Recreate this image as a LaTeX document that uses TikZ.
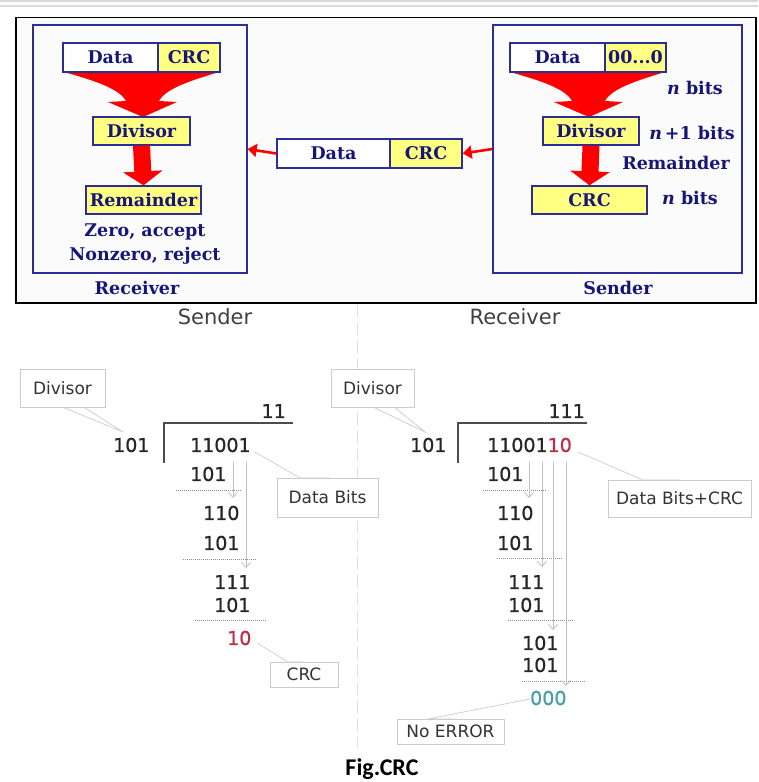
\documentclass[tikz,border=0pt]{standalone}
\usepackage{fontspec}
\usetikzlibrary{arrows.meta}
\newfontfamily\serifb{DejaVu Serif}
\newfontfamily\sansf{DejaVu Sans}
\newfontfamily\digf{DejaVu Sans}[BoldFont={DejaVu Sans},BoldFeatures={FakeBold=0.9}]
\newfontfamily\figfont{Carlito}
\definecolor{navytx}{RGB}{22,22,120}
\definecolor{bluebd}{RGB}{45,45,150}
\definecolor{ylw}{RGB}{255,255,130}
\definecolor{crcred}{RGB}{190,45,70}
\definecolor{teal0}{RGB}{70,160,165}
\begin{document}
\begin{tikzpicture}[x=1pt,y=-1pt,
  tbox/.style={draw=bluebd, line width=1.3pt, inner sep=0pt, text=navytx,
    font=\serifb\bfseries\fontsize{17.5}{20}\selectfont, minimum height=28pt},
  ybox/.style={tbox, fill=ylw},
  wbox/.style={tbox, fill=white},
  ttxt/.style={inner sep=0pt, text=navytx, font=\serifb\bfseries\fontsize{17.5}{20}\selectfont},
  frame/.style={draw=bluebd, line width=1.3pt, inner sep=0pt},
  redarrow/.style={red, line width=2.6pt, -{Triangle[length=9pt,width=13pt]}},
  fatarrow/.style={red, line width=17pt, -{Triangle[length=14pt,width=39pt]}},
  callbox/.style={draw=gray!40, line width=1pt, fill=white, inner sep=0pt, text=black!80,
    font=\sansf\fontsize{17}{20}\selectfont},
  wedge/.style={draw=gray!40, fill=white, line width=0.7pt},
  dig/.style={inner sep=0pt, text=black!85, font=\digf\bfseries\fontsize{19}{22}\selectfont},
  head/.style={inner sep=0pt, text=black!75, font=\sansf\fontsize{21}{24}\selectfont},
  rule/.style={black!70, line width=1.8pt},
  dotrule/.style={gray!90, line width=0.8pt, dash pattern=on 1pt off 1pt},
  bring/.style={gray!50, line width=0.8pt, -{Straight Barb[length=5pt,width=9pt]}}
]
\useasboundingbox (0,0) rectangle (758,782);
\fill[white] (0,0) rectangle (758,782);
% top rules
\draw[gray!30, line width=2.2pt] (0,1.3) -- (758,1.3);
\draw[gray!30, line width=2pt] (0,6.2) -- (758,6.2);
% outer frame
\draw[black, fill=gray!3, line width=1.6pt] (16,17.5) rectangle (756,303);

% ---------- Receiver (top) ----------
\node[frame, minimum width=214pt, minimum height=248pt] (recv) at (140,149) {};
\node[ttxt] (recvlbl) at (137,288) {Receiver};
\fill[red] (64,72) -- (219,72) .. controls (193,80) and (166,88) .. (159,101)
  -- (177,102) -- (143,117) -- (108,102) -- (126,101)
  .. controls (119,88) and (92,80) .. (64,72) -- cycle;
\node[wbox, minimum width=95pt, minimum height=29pt] (rdata) at (110.5,57.5) {Data};
\node[ybox, minimum width=62pt, minimum height=29pt] (rcrc) at (189,57.5) {CRC};
\node[ybox, minimum width=97pt] (rdiv) at (141.5,131) {Divisor};
\node[ybox, minimum width=115pt] (rrem) at (143.5,200) {Remainder};
\draw[fatarrow] (rdiv.south) -- (rrem.north);
\node[ttxt] (zero) at (145,232) {Zero, accept};
\node[ttxt] (nonzero) at (145,256) {Nonzero, reject};

% ---------- middle ----------
\node[wbox, minimum width=113pt, minimum height=29pt] (mdata) at (333.5,153.5) {Data};
\node[ybox, minimum width=72pt, minimum height=29pt] (mcrc) at (426,153.5) {CRC};

% ---------- Sender (top) ----------
\node[frame, minimum width=249pt, minimum height=248pt] (send) at (617.5,149) {};
\node[ttxt] (sendlbl) at (618,288) {Sender};
\begin{scope}[shift={(446,0)}]
\fill[red] (64,72) -- (219,72) .. controls (193,80) and (166,88) .. (159,101)
  -- (177,102) -- (143,117) -- (108,102) -- (126,101)
  .. controls (119,88) and (92,80) .. (64,72) -- cycle;
\end{scope}
\node[wbox, minimum width=95pt, minimum height=29pt] (sdata) at (557.5,57.5) {Data};
\node[ybox, minimum width=61pt, minimum height=29pt] (szero) at (635.5,57.5) {00...0};
\node[ybox, minimum width=96pt] (sdiv) at (591,131) {Divisor};
\node[ybox, minimum width=115pt] (scrc) at (589.5,200) {CRC};
\draw[fatarrow] (sdiv.south) -- (scrc.north);
\node[ttxt] (nb1) at (695,88) {\itshape n\upshape\ bits};
\node[ttxt] (nb2) at (692,133) {\itshape n\upshape\,+1 bits};
\node[ttxt] (remlbl) at (676,163) {Remainder};
\node[ttxt] (nb3) at (690,198) {\itshape n\upshape\ bits};

\draw[redarrow] (mdata.west) -- (recv.east);
\draw[redarrow] (send.west) -- (mcrc.east);

% ---------- bottom ----------
\draw[gray!25, line width=1pt, dash pattern=on 12pt off 6pt] (357,305) -- (357,747);
\node[head] (shead) at (215,317) {Sender};
\node[head] (rhead) at (515,317) {Receiver};

% sender division
\filldraw[wedge] (60,406) -- (123,432) -- (82,406);
\node[callbox, minimum width=85pt, minimum height=38pt] (sdivl) at (62.5,388) {Divisor};
\node[dig, anchor=west] (sd) at (113,445) {101};
\draw[rule] (164,463) -- (164,423) -- (293,423);
\node[dig, anchor=east] (sq) at (286,411) {11};
\node[dig, anchor=west] (s1) at (190,445) {11001};
\node[dig, anchor=west] (s2) at (190,474) {101};
\draw[dotrule] (176,490) -- (241,490);
\node[dig, anchor=west] (s3) at (203,513) {110};
\node[dig, anchor=west] (s4) at (203,543) {101};
\draw[dotrule] (183,559) -- (257,559);
\node[dig, anchor=west] (s5) at (214,582) {111};
\node[dig, anchor=west] (s6) at (214,605) {101};
\draw[dotrule] (195,620) -- (267,620);
\node[dig, anchor=west, text=crcred] (s7) at (227,638) {10};
\coordinate (sa1) at (233,462); \coordinate (sb1) at (233,498);
\coordinate (sa2) at (246,462); \coordinate (sb2) at (246,568);
\draw[bring] (sa1) -- (sb1);
\draw[bring] (sa2) -- (sb2);
\filldraw[wedge] (255,452) -- (300,478) -- (330,478);
\node[callbox, minimum width=101pt, minimum height=39pt] (dbits) at (327.5,497.5) {Data Bits};
\filldraw[wedge] (257,643) -- (288,662) -- (302,662);
\node[callbox, minimum width=68pt, minimum height=25pt] (crcl) at (304,674.5) {CRC};

% receiver division
\filldraw[wedge] (371,406) -- (425,432) -- (393,406);
\node[callbox, minimum width=83pt, minimum height=38pt] (rdivl) at (372.5,388) {Divisor};
\node[dig, anchor=west] (rd) at (410,445) {101};
\draw[rule] (458,463) -- (458,423) -- (587,423);
\node[dig, anchor=east] (rq) at (585,411) {111};
\node[dig, anchor=west] (r1) at (487,445) {11001\textcolor{crcred}{10}};
\node[dig, anchor=west] (r2) at (487,474) {101};
\draw[dotrule] (483,490) -- (547,490);
\node[dig, anchor=west] (r3) at (497,513) {110};
\node[dig, anchor=west] (r4) at (497,543) {101};
\draw[dotrule] (497,558) -- (562,558);
\node[dig, anchor=west] (r5) at (508,582) {111};
\node[dig, anchor=west] (r6) at (508,605) {101};
\draw[dotrule] (508,620) -- (573,620);
\node[dig, anchor=west] (r7) at (522,643) {101};
\node[dig, anchor=west] (r8) at (522,665) {101};
\draw[dotrule] (522,681) -- (585,681);
\node[dig, anchor=west, text=teal0] (r9) at (530,698) {000};
\coordinate (ra1) at (529,462); \coordinate (rb1) at (529,498);
\coordinate (ra2) at (542,462); \coordinate (rb2) at (542,567);
\coordinate (ra3) at (553,462); \coordinate (rb3) at (553,630);
\coordinate (ra4) at (566,462); \coordinate (rb4) at (566,686);
\draw[bring] (ra1) -- (rb1);
\draw[bring] (ra2) -- (rb2);
\draw[bring] (ra3) -- (rb3);
\draw[bring] (ra4) -- (rb4);
\filldraw[wedge] (578,452) -- (643,480) -- (680,480);
\node[callbox, minimum width=143pt, minimum height=37pt] (dbcrc) at (679.5,498.5) {Data Bits+CRC};
\filldraw[wedge] (530,699) -- (428,719) -- (455,719);
\node[callbox, minimum width=107pt, minimum height=25pt] (noerr) at (450.5,731.5) {No ERROR};

\node[inner sep=0pt, font=\figfont\bfseries\fontsize{24}{28}\selectfont] (fig) at (382,769) {Fig.CRC};
\end{tikzpicture}
\end{document}
